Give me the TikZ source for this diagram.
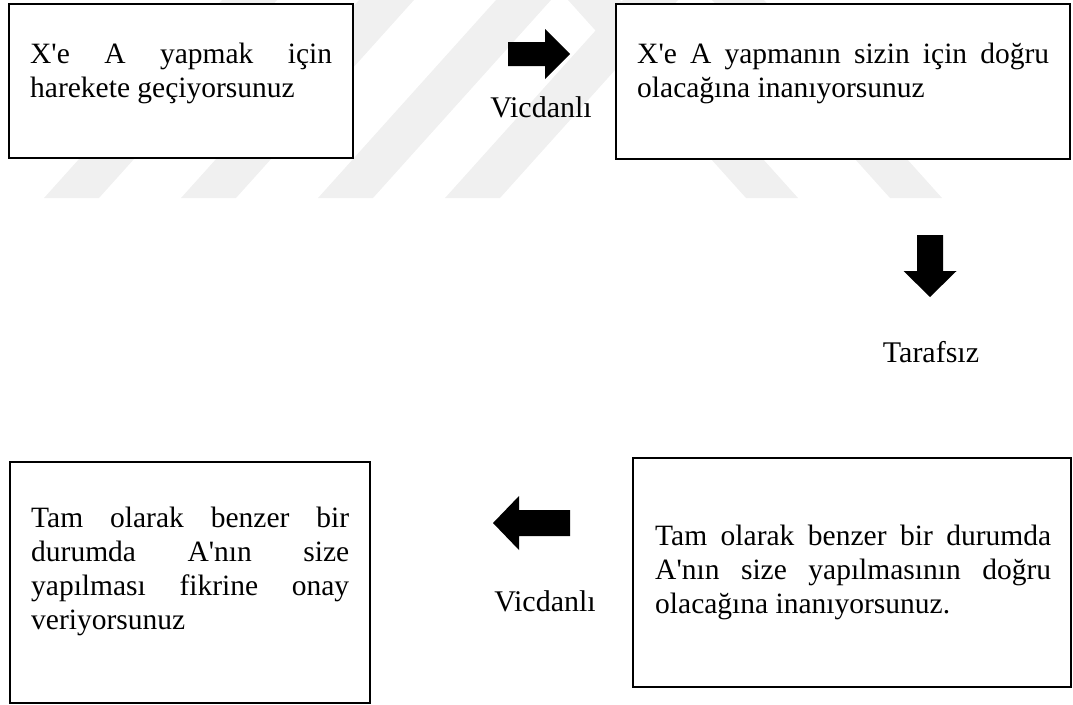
\documentclass[tikz,border=0pt]{standalone}
\usepackage{fontspec}
\setmainfont{Liberation Serif}[Ligatures=TeXOff]
\begin{document}
\begin{tikzpicture}[x=1pt,y=-1pt,
  wm/.style={fill=black!6},
  boxnode/.style={draw=black,line width=1.8pt,fill=white,inner sep=0pt},
  boxtext/.style={anchor=base west,inner sep=0pt,align=justify,
    font=\fontsize{29.5}{34}\selectfont},
  lbl/.style={anchor=base,inner sep=0pt,font=\fontsize{30}{34}\selectfont},
  blockarrow/.style={fill=black}]
\useasboundingbox (0,0) rectangle (1073,704);
\hyphenpenalty=10000 \exhyphenpenalty=10000 \tolerance=10000
% watermark stripes
\foreach \a in {44,181,318,445}
  \fill[wm] (\a,198) -- ++(55,0) -- ++(178,-198) -- ++(-55,0) -- cycle;
\foreach \a in {746,890}
  \fill[wm] (\a,198) -- ++(52,0) -- ++(-178,-198) -- ++(-52,0) -- cycle;
% boxes
\node[boxnode,minimum width=344pt,minimum height=154pt] (b1) at (181,81) {};
\node[boxnode,minimum width=454pt,minimum height=155pt] (b2) at (843,81.5) {};
\node[boxnode,minimum width=360pt,minimum height=241pt] (b3) at (190,582.5) {};
\node[boxnode,minimum width=438pt,minimum height=229pt] (b4) at (852,572.5) {};
% texts
\node[boxtext,text width=302pt] (t1) at (30,63)
  {X'e A yapmak için\linebreak harekete geçiyorsunuz};
\node[boxtext,text width=412pt] (t2) at (637,63)
  {X'e A yapmanın sizin için doğru\linebreak olacağına inanıyorsunuz};
\node[boxtext,text width=318pt] (t3) at (31,527)
  {Tam olarak benzer bir\linebreak durumda A'nın size\linebreak yapılması fikrine onay\linebreak veriyorsunuz};
\node[boxtext,text width=396pt] (t4) at (655,545)
  {Tam olarak benzer bir durumda\linebreak A'nın size yapılmasının doğru\linebreak olacağına inanıyorsunuz.};
% labels
\node[lbl] (l1) at (541,117) {Vicdanlı};
\node[lbl] (l2) at (545,611) {Vicdanlı};
\node[lbl] (l3) at (931,362) {Tarafsız};
% block arrows
\fill[blockarrow] (508,42) -- (545,42) -- (545,29) -- (570,54) -- (545,79) -- (545,66) -- (508,66) -- cycle;
\fill[blockarrow] (917,235) -- (943,235) -- (943,271) -- (956.5,271) -- (930,297) -- (903.5,271) -- (917,271) -- cycle;
\fill[blockarrow] (570,510) -- (519,510) -- (519,496) -- (493,523) -- (519,550) -- (519,536) -- (570,536) -- cycle;
\end{tikzpicture}
\end{document}
